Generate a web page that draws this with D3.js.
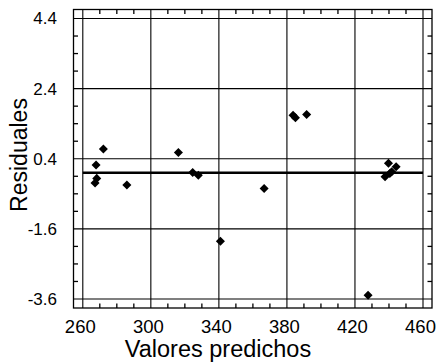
<!DOCTYPE html>
<html>
<head>
<meta charset="utf-8">
<script src="https://cdn.jsdelivr.net/npm/d3@7"></script>
<style>
  html, body { margin: 0; padding: 0; background: #fff; }
  svg { display: block; font-family: "Liberation Sans", Arial, sans-serif; }
</style>
</head>
<body>
<svg id="chart" width="438" height="364"></svg>
<script>
// Predicted values (x) and residuals (y) of the fitted model
const predichos = [272.1, 267.8, 268.2, 267.2, 285.9, 316.2, 324.6, 327.9, 340.9, 366.6,
                   383.6, 385.0, 391.6, 427.7, 439.7, 444.2, 441.6, 437.7, 440.5];
const residuales = [0.68, 0.22, -0.16, -0.29, -0.35, 0.58, 0.01, -0.07, -1.95, -0.45,
                    1.64, 1.57, 1.66, -3.49, 0.27, 0.17, 0.03, -0.11, -0.02];
const xTicks = [260, 300, 340, 380, 420, 460];
const yTicks = [-3.6, -1.6, 0.4, 2.4, 4.4];
const lineaCero = 0;

const svg = d3.select("#chart");

// Data area and surrounding frame
const frame = { left: 73.5, top: 9.5, right: 432, bottom: 308 };
const x = d3.scaleLinear().domain([260, 460]).range([82.8, 423]);
const y = d3.scaleLinear().domain([-3.6, 4.4]).range([299, 18.5]);

const g = svg.append("g");

// Major grid lines spanning the whole frame
g.selectAll("line.gx").data(xTicks).join("line")
  .attr("class", "gx")
  .attr("x1", d => x(d)).attr("x2", d => x(d))
  .attr("y1", frame.top).attr("y2", frame.bottom)
  .attr("stroke", "#000").attr("stroke-width", 1.1);
g.selectAll("line.gy").data(yTicks).join("line")
  .attr("class", "gy")
  .attr("y1", d => y(d)).attr("y2", d => y(d))
  .attr("x1", frame.left).attr("x2", frame.right)
  .attr("stroke", "#000").attr("stroke-width", 1.1);

// Minor ticks on all four sides, pointing inward
const xMinor = d3.range(270, 460, 10).filter(v => !xTicks.includes(v));
const yMinor = [];
for (let i = 0; i < yTicks.length - 1; i++) {
  for (let k = 1; k < 4; k++) yMinor.push(yTicks[i] + k * 0.5);
}
const tl = 4.5;
const ticks = g.append("g").attr("stroke", "#000").attr("stroke-width", 1.3);
xMinor.forEach(v => {
  ticks.append("line").attr("x1", x(v)).attr("x2", x(v))
    .attr("y1", frame.top).attr("y2", frame.top + tl);
  ticks.append("line").attr("x1", x(v)).attr("x2", x(v))
    .attr("y1", frame.bottom).attr("y2", frame.bottom - tl);
});
yMinor.forEach(v => {
  ticks.append("line").attr("y1", y(v)).attr("y2", y(v))
    .attr("x1", frame.left).attr("x2", frame.left + tl);
  ticks.append("line").attr("y1", y(v)).attr("y2", y(v))
    .attr("x1", frame.right).attr("x2", frame.right - tl);
});

// Frame
g.append("rect")
  .attr("x", frame.left).attr("y", frame.top)
  .attr("width", frame.right - frame.left).attr("height", frame.bottom - frame.top)
  .attr("fill", "none").attr("stroke", "#000").attr("stroke-width", 1.3);

// Zero-residual reference line
g.append("line")
  .attr("x1", x(260)).attr("x2", x(460))
  .attr("y1", y(lineaCero)).attr("y2", y(lineaCero))
  .attr("stroke", "#000").attr("stroke-width", 2.6);

// Residual points as diamonds
const diamond = d3.symbol().type(d3.symbolDiamond2).size(52);
g.selectAll("path.pt").data(predichos.map((p, i) => [p, residuales[i]])).join("path")
  .attr("class", "pt")
  .attr("d", diamond)
  .attr("transform", d => `translate(${x(d[0])},${y(d[1])})`)
  .attr("fill", "#000");

// Tick labels
g.selectAll("text.xl").data(xTicks).join("text")
  .attr("class", "xl")
  .attr("x", d => x(d) - 2.5).attr("y", 333)
  .attr("text-anchor", "middle")
  .attr("font-size", 18.5)
  .attr("fill", "#000")
  .text(d => d);
g.selectAll("text.yl").data(yTicks).join("text")
  .attr("class", "yl")
  .attr("x", 57).attr("y", d => y(d)).attr("dy", "0.35em")
  .attr("text-anchor", "end")
  .attr("font-size", 17)
  .attr("fill", "#000")
  .text(d => d.toFixed(1));

// Axis titles
svg.append("text")
  .attr("x", 218).attr("y", 356.5)
  .attr("text-anchor", "middle")
  .attr("font-size", 23.5)
  .attr("fill", "#000")
  .text("Valores predichos");
svg.append("text")
  .attr("transform", "translate(26.5,155) rotate(-90)")
  .attr("text-anchor", "middle")
  .attr("font-size", 23)
  .attr("fill", "#000")
  .text("Residuales");
</script>
</body>
</html>
